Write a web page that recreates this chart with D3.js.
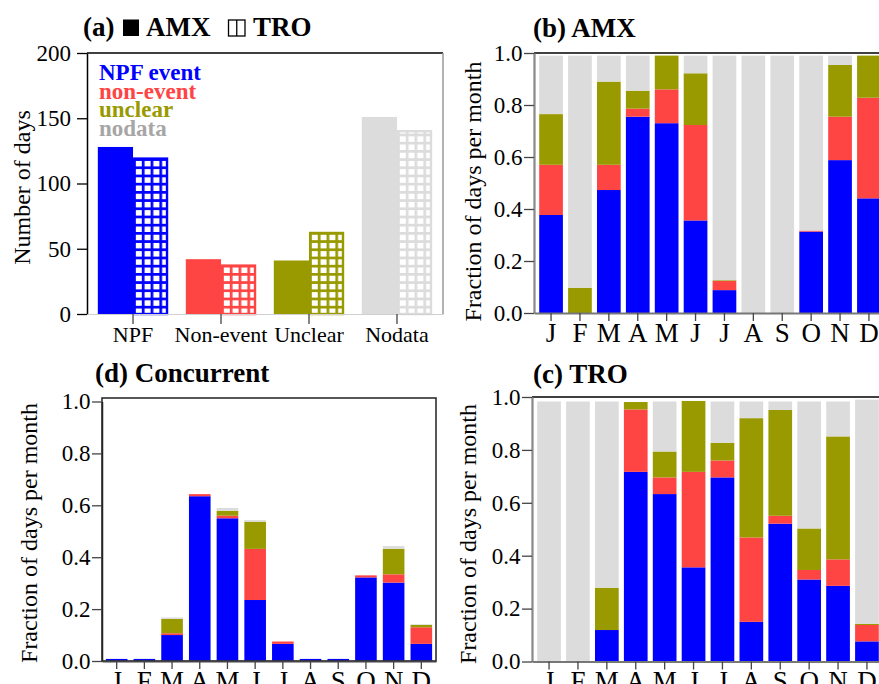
<!DOCTYPE html>
<html><head><meta charset="utf-8">
<script src="https://cdn.jsdelivr.net/npm/d3@7"></script>
<style>
body{margin:0;background:#fff}
svg{display:block;font-family:"Liberation Serif","Times New Roman",serif}
</style>
</head><body><svg id="chart" width="879" height="684"></svg>
<script>
// ---------- data ----------
const categories = ["NPF", "Non-event", "Unclear", "Nodata"];
const amxDays = [128, 42, 41, 151];
const troDays = [120, 38, 63, 141];
const daysTicks = [0, 50, 100, 150, 200];

const months = ["J","F","M","A","M","J","J","A","S","O","N","D"];
const classes = ["npf", "non", "unclear", "nodata"];
const classColors = ["#0000ff", "#ff4444", "#999900", "#dcdcdc"];
const legendLabels = ["NPF event", "non-event", "unclear", "nodata"];
const legendColors = ["#0000ff", "#ff4444", "#999900", "#a6a6a6"];
const fracTicks = [0, 0.2, 0.4, 0.6, 0.8, 1.0];

// (b) AMX fractions per month
const amxNpf     = [0.377, 0.000, 0.473, 0.755, 0.730, 0.356, 0.088, 0.000, 0.000, 0.313, 0.588, 0.441];
const amxNon     = [0.193, 0.000, 0.097, 0.031, 0.130, 0.367, 0.035, 0.000, 0.000, 0.004, 0.167, 0.387];
const amxUnclear = [0.195, 0.097, 0.320, 0.069, 0.130, 0.199, 0.003, 0.000, 0.000, 0.000, 0.199, 0.162];
const amxNodata  = [0.225, 0.893, 0.100, 0.135, 0.000, 0.068, 0.864, 0.990, 0.990, 0.673, 0.036, 0.000];

// (c) TRO fractions per month
const troNpf     = [0.000, 0.000, 0.119, 0.717, 0.633, 0.356, 0.696, 0.150, 0.521, 0.310, 0.286, 0.076];
const troNon     = [0.000, 0.000, 0.000, 0.236, 0.063, 0.361, 0.064, 0.319, 0.030, 0.036, 0.100, 0.062];
const troUnclear = [0.000, 0.000, 0.160, 0.028, 0.098, 0.268, 0.067, 0.451, 0.400, 0.157, 0.465, 0.004];
const troNodata  = [0.983, 0.983, 0.704, 0.000, 0.189, 0.000, 0.156, 0.063, 0.032, 0.480, 0.132, 0.848];

// (d) Concurrent fractions per month
const conNpf     = [0.008, 0.008, 0.100, 0.635, 0.550, 0.235, 0.066, 0.008, 0.008, 0.322, 0.302, 0.066];
const conNon     = [0.000, 0.000, 0.007, 0.008, 0.010, 0.197, 0.009, 0.000, 0.000, 0.008, 0.032, 0.064];
const conUnclear = [0.000, 0.000, 0.055, 0.000, 0.019, 0.105, 0.000, 0.000, 0.000, 0.000, 0.098, 0.009];
const conNodata  = [0.000, 0.000, 0.006, 0.000, 0.011, 0.006, 0.000, 0.000, 0.000, 0.000, 0.011, 0.003];

// ---------- helpers ----------
const svg = d3.select("#chart");
const defs = svg.append("defs");
const color = d3.scaleOrdinal().domain(classes).range(classColors);

function styleAxis(g, domainColor, domainWidth, tickColor, fontSize) {
  g.select(".domain").attr("stroke", domainColor).attr("stroke-width", domainWidth);
  g.selectAll(".tick line").attr("stroke", tickColor).attr("stroke-width", 1.3);
  g.selectAll(".tick text").attr("fill", "#000").style("font-size", fontSize + "px")
    .style("font-family", '"Liberation Serif","Times New Roman",serif');
}

function rows(a, b, c, d) {
  return months.map((m, i) => ({ i: i, npf: a[i], non: b[i], unclear: c[i], nodata: d[i] }));
}

function monthlyPanel(opt) {
  const x = d3.scaleBand().domain(d3.range(months.length)).range(opt.xr)
    .paddingInner(opt.pi).paddingOuter(opt.po);
  const y = d3.scaleLinear().domain([0, 1]).range(opt.yr);
  const g = svg.append("g");
  const series = d3.stack().keys(classes)(opt.data);
  g.selectAll("g.layer").data(series).join("g").attr("class", "layer")
    .attr("fill", d => color(d.key))
    .selectAll("rect").data(d => d).join("rect")
    .attr("x", d => x(d.data.i))
    .attr("width", x.bandwidth())
    .attr("y", d => y(d[1]))
    .attr("height", d => Math.max(0, y(d[0]) - y(d[1])));

  // frame
  if (opt.box) {
    g.append("rect").attr("x", opt.xr[0]).attr("y", y(1) - 3.5)
      .attr("width", opt.xr[1] - opt.xr[0]).attr("height", y(0) - y(1) + 3.5)
      .attr("fill", "none").attr("stroke", "#222").attr("stroke-width", 1.5);
  } else {
    g.append("line").attr("x1", opt.xr[0]).attr("x2", 879).attr("y1", y(1)).attr("y2", y(1))
      .attr("stroke", "#000").attr("stroke-width", 1.5);
  }

  const ya = g.append("g").attr("transform", `translate(${opt.xr[0]},0)`)
    .call(d3.axisLeft(y).tickValues(fracTicks).tickFormat(d3.format(".1f")).tickSize(10).tickPadding(1.5).tickSizeOuter(0));
  styleAxis(ya, opt.box ? "#222" : "#888", opt.box ? 1.5 : 2.2, "#444", 23);

  const xa = g.append("g").attr("transform", `translate(0,${y(0)})`)
    .call(d3.axisBottom(x).tickFormat(i => months[i]).tickSize(8).tickSizeOuter(0));
  styleAxis(xa, opt.box ? "#444" : "#777", 1.8, "#444", 27);
  xa.selectAll(".tick text").attr("dy", null).attr("y", 28.5);

  svg.append("text").attr("x", opt.title[0]).attr("y", opt.title[1])
    .attr("font-weight", "bold").style("font-size", "27px").text(opt.title[2]);
  svg.append("text").attr("transform", `translate(${opt.ylab[0]},${opt.ylab[1]}) rotate(-90)`)
    .attr("text-anchor", "middle").style("font-size", "24px").text("Fraction of days per month");
}

// ---------- panel (a) ----------
(function () {
  const xr = [87, 443];
  const x = d3.scaleBand().domain(categories).range(xr).paddingInner(0.2).paddingOuter(0.123);
  const y = d3.scaleLinear().domain([0, 200]).range([314, 53]);
  const g = svg.append("g");
  const half = x.bandwidth() / 2;

  // AMX solid bars
  g.selectAll("rect.amx").data(categories).join("rect").attr("class", "amx")
    .attr("x", d => x(d)).attr("width", half)
    .attr("y", (d, i) => y(amxDays[i])).attr("height", (d, i) => y(0) - y(amxDays[i]))
    .attr("fill", (d, i) => classColors[i]);

  // TRO grid-patterned bars
  categories.forEach((c, i) => {
    const pw = half / 4, ph = 8.2, lw = 2.7;
    const p = defs.append("pattern").attr("id", "grid" + i).attr("patternUnits", "userSpaceOnUse")
      .attr("x", x(c) + half).attr("y", y(0)).attr("width", pw).attr("height", ph);
    p.append("rect").attr("width", pw).attr("height", ph).attr("fill", classColors[i]);
    p.append("rect").attr("x", lw).attr("y", lw).attr("width", pw - lw).attr("height", ph - lw).attr("fill", "#fff");
  });
  g.selectAll("rect.tro").data(categories).join("rect").attr("class", "tro")
    .attr("x", d => x(d) + half + 1.2).attr("width", half - 2.4)
    .attr("y", (d, i) => y(troDays[i]) + 1.2).attr("height", (d, i) => y(0) - y(troDays[i]) - 1.2)
    .attr("fill", (d, i) => `url(#grid${i})`)
    .attr("stroke", (d, i) => classColors[i]).attr("stroke-width", 2.4);

  // frame lines
  g.append("line").attr("x1", xr[0]).attr("x2", xr[1]).attr("y1", y(200)).attr("y2", y(200))
    .attr("stroke", "#000").attr("stroke-width", 1.5);
  g.append("line").attr("x1", xr[1]).attr("x2", xr[1]).attr("y1", y(200)).attr("y2", y(0))
    .attr("stroke", "#999").attr("stroke-width", 1.5);

  const ya = g.append("g").attr("transform", `translate(${xr[0]},0)`)
    .call(d3.axisLeft(y).tickValues(daysTicks).tickSize(10).tickPadding(6).tickSizeOuter(0));
  styleAxis(ya, "#000", 1.5, "#000", 23);
  const xa = g.append("g").attr("transform", `translate(0,${y(0)})`)
    .call(d3.axisBottom(x).tickSize(10).tickSizeOuter(0));
  styleAxis(xa, "#cfcfcf", 1.2, "#444", 22);
  xa.selectAll(".tick text").attr("dy", null).attr("y", 27.5);

  // legend
  svg.selectAll("text.leg").data(legendLabels).join("text").attr("class", "leg")
    .attr("x", 99).attr("y", (d, i) => 80 + i * 18.5)
    .attr("font-weight", "bold").style("font-size", "23px")
    .attr("fill", (d, i) => legendColors[i]).text(d => d);

  // title: (a) ■ AMX  ◫ TRO
  const t = svg.append("g").attr("font-weight", "bold").style("font-size", "27px");
  t.append("text").attr("x", 83).attr("y", 36).text("(a)");
  t.append("rect").attr("x", 123).attr("y", 19.5).attr("width", 16).attr("height", 16.5).attr("fill", "#000");
  t.append("text").attr("x", 146).attr("y", 36).text("AMX");
  t.append("rect").attr("x", 228.5).attr("y", 20).attr("width", 16.5).attr("height", 16).attr("fill", "none")
    .attr("stroke", "#000").attr("stroke-width", 1.3);
  t.append("line").attr("x1", 236.75).attr("x2", 236.75).attr("y1", 20).attr("y2", 36)
    .attr("stroke", "#000").attr("stroke-width", 1.3);
  t.append("text").attr("x", 253).attr("y", 36).text("TRO");

  svg.append("text").attr("transform", "translate(30,187.5) rotate(-90)")
    .attr("text-anchor", "middle").style("font-size", "24px").text("Number of days");
})();

// ---------- panel (b) AMX ----------
monthlyPanel({
  data: rows(amxNpf, amxNon, amxUnclear, amxNodata),
  xr: [534, 886], yr: [313, 53], pi: 0.18, po: 0.18, box: false,
  title: [533, 37, "(b) AMX"], ylab: [481, 191.5]
});

// ---------- panel (c) TRO ----------
monthlyPanel({
  data: rows(troNpf, troNon, troUnclear, troNodata),
  xr: [532, 884], yr: [661.5, 397], pi: 0.18, po: 0.18, box: false,
  title: [533, 383, "(c) TRO"], ylab: [476, 534]
});

// ---------- panel (d) Concurrent ----------
monthlyPanel({
  data: rows(conNpf, conNon, conUnclear, conNodata),
  xr: [102, 436], yr: [661, 401.5], pi: 0.22, po: 0.14, box: true,
  title: [95, 382, "(d) Concurrent"], ylab: [37, 533]
});
</script>
</body></html>
